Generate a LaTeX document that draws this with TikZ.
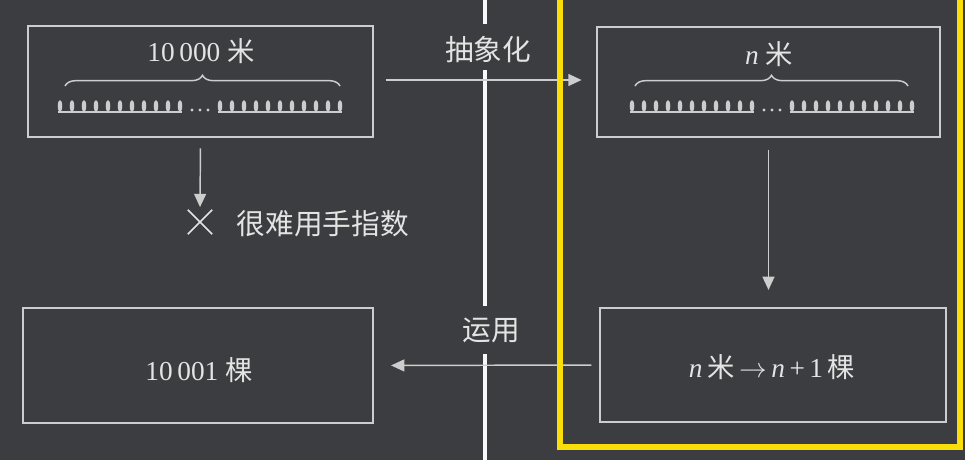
\documentclass[tikz,border=0pt]{standalone}
\usepackage{fontspec}
\setmainfont{Liberation Serif}
\newfontfamily\cjk{Noto Sans CJK SC}
\definecolor{BoardBg}{RGB}{60,61,64}
\definecolor{ChalkLine}{RGB}{205,205,205}
\definecolor{ChalkText}{RGB}{228,228,228}
\definecolor{DividerWhite}{RGB}{248,248,248}
\definecolor{FrameYellow}{RGB}{250,222,12}
\usetikzlibrary{
  positioning,
  arrows.meta,
  shapes.misc,
  decorations.pathreplacing
}
\tikzset{
  % Chalk box
  panel/.style={
    draw=ChalkLine,
    line width=1.1pt,
    inner sep=0pt
  },
  % Text inside boxes
  boxtext/.style={
    text=ChalkText,
    font=\fontsize{20.5}{24}\selectfont
  },
  % Chinese tag beside an arrow
  tag/.style={
    text=ChalkText,
    font=\cjk\fontsize{21.5}{26}\selectfont
  },
  % Arrow between boxes
  flow/.style={
    draw=ChalkLine,
    line width=1.1pt,
    -{Triangle[length=10pt,width=9pt]}
  },
  % Curly brace over the trees
  brace/.style={
    draw=ChalkLine,
    line width=1.1pt,
    decorate,
    decoration={brace, amplitude=8pt}
  },
  % Thin chalk line
  chalk/.style={
    draw=ChalkLine,
    line width=1pt
  }
}

\begin{document}
\begin{tikzpicture}[x=0.75pt, y=-0.75pt]
  \fill[BoardBg] (0,0) rectangle (965,460);
  \useasboundingbox (0,0) rectangle (965,460);

  % Boxes
  \node[panel, minimum width=258.75pt, minimum height=83.25pt] (lenBox)  at (200.5,81.5) {};
  \node[panel, minimum width=257.25pt, minimum height=82.5pt]  (nBox)    at (768.5,82)   {};
  \node[panel, minimum width=262.5pt,  minimum height=86.25pt] (resBox)  at (198,365.5)  {};
  \node[panel, minimum width=259.5pt,  minimum height=85.5pt]  (ruleBox) at (773,365)    {};

  % Titles over the braces
  \node[boxtext] (lenTitle) at (201,51) {10\,000 {\cjk 米}};
  \node[boxtext] (nTitle)   at (769,54) {\textit{n} {\cjk 米}};

  % Braces
  \draw[brace] (65,86) -- (340,86);
  \draw[brace] (635,86) -- (908,86);

  % Rows of trees
  \foreach \cx in {200,772}{
    \draw[chalk] (\cx-142,112) -- (\cx-18,112) (\cx+18,112) -- (\cx+142,112);
    \foreach \dx in {0,12,...,120}{
      \fill[ChalkLine] (\cx-140+\dx,106) ellipse [x radius=1.7pt, y radius=4.4pt];
      \fill[ChalkLine] (\cx+20+\dx,106) ellipse [x radius=1.7pt, y radius=4.4pt];
    }
    \foreach \dx in {-8,0,8}
      \fill[ChalkLine] (\cx+\dx,110) circle [radius=1.3pt];
  }

  % Result texts
  \node[boxtext] (resText)  at (199,370) {10\,001 {\cjk 棵}};
  \node[boxtext] (ruleText) at (772,367) {\textit{n}\,{\cjk 米}\,$\rightarrow$\,\textit{n}\,+\,1\,{\cjk 棵}};

  % Cross and remark
  \node[cross out, draw=ChalkText, line width=1.3pt, minimum size=17pt, inner sep=0pt] (crossMark) at (200,222) {};
  \node[tag, anchor=west] (hardTag) at (232,224) {很难用手指数};

  % Tags on the divider
  \node[tag] (abstractTag) at (488,50)  {抽象化};
  \node[tag] (applyTag)    at (491,330) {运用};

  % Divider
  \draw[DividerWhite, line width=2.6pt] (485,0) -- (485,24);
  \draw[DividerWhite, line width=2.6pt] (485,70) -- (485,306);
  \draw[DividerWhite, line width=2.6pt] (485,354) -- (485,460);

  % Arrows
  \draw[flow, shorten <=9pt, shorten >=11pt] (lenBox.east |- 0,80) -- (nBox.west |- 0,80);
  \draw[flow, shorten <=8pt, shorten >=2pt] (lenBox.south) -- (crossMark.north);
  \draw[flow, shorten <=9pt, shorten >=13pt] (nBox.south) -- (nBox.south |- ruleBox.north);
  \draw[flow, shorten <=6pt, shorten >=13pt] (ruleBox.west) -- (resBox.east);

  % Yellow frame
  \draw[FrameYellow, line width=4.6pt] (560,-10) rectangle (960,447);
\end{tikzpicture}
\end{document}
